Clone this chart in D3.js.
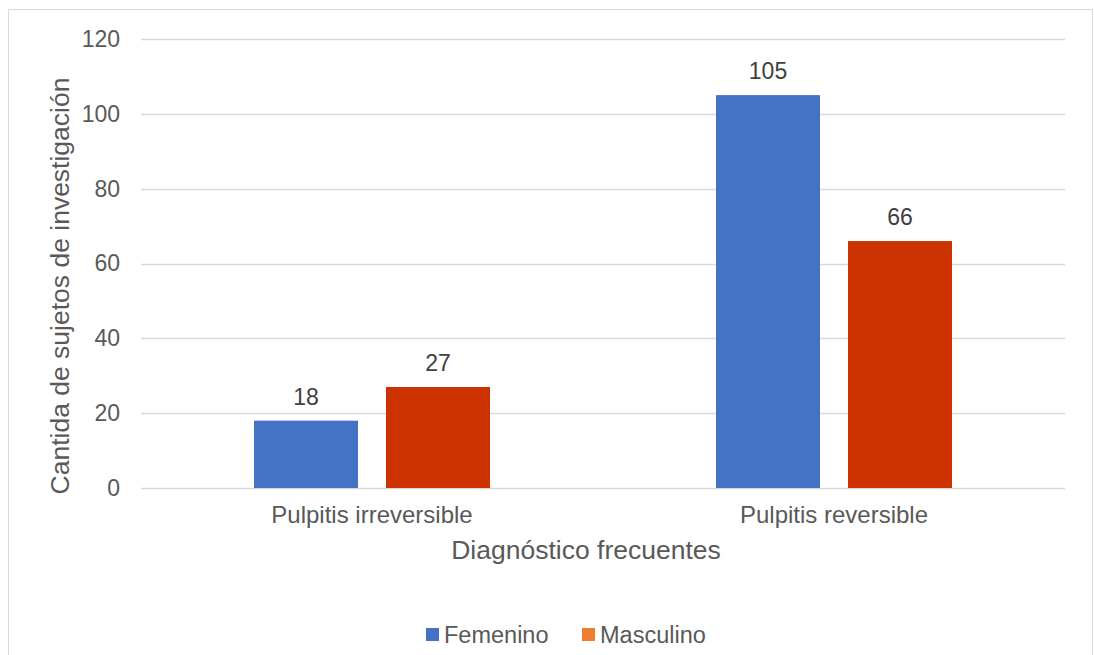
<!DOCTYPE html>
<html>
<head>
<meta charset="utf-8">
<script src="https://cdn.jsdelivr.net/npm/d3@7"></script>
<style>
  html, body { margin: 0; padding: 0; background: #fff; }
  svg { display: block; font-family: "Liberation Sans", Arial, sans-serif; }
</style>
</head>
<body>
<svg id="chart" width="1094" height="655"></svg>
<script>
// Diagnosis categories and counts per sex
const categories = ["Pulpitis irreversible", "Pulpitis reversible"];
const seriesNames = ["Femenino", "Masculino"];
const femenino = [18, 105];
const masculino = [27, 66];
const yTicks = [0, 20, 40, 60, 80, 100, 120];

const barColors = ["#4472C4", "#CC3300"];
const legendColors = ["#4472C4", "#ED7D31"];

const svg = d3.select("#chart");

// outer frame
svg.append("rect")
  .attr("x", 8.5).attr("y", 9.5)
  .attr("width", 1084).attr("height", 660)
  .attr("fill", "#fff").attr("stroke", "#D9D9D9").attr("stroke-width", 1);

const plot = { left: 141, right: 1065, top: 39, bottom: 488 };
const groupWidth = 236;

const x0 = d3.scaleBand().domain(categories).range([plot.left, plot.right]);
const x1 = d3.scaleBand().domain(seriesNames).range([0, groupWidth]).paddingInner(0.212);
const y = d3.scaleLinear().domain([0, 120]).range([plot.bottom, plot.top]);

// gridlines
svg.append("g")
  .selectAll("line").data(yTicks).join("line")
  .attr("x1", plot.left).attr("x2", plot.right)
  .attr("y1", d => Math.round(y(d)) + 0.5).attr("y2", d => Math.round(y(d)) + 0.5)
  .attr("stroke", "#D9D9D9").attr("stroke-width", 1.3);

// y axis labels
const yAxis = d3.axisLeft(y).tickValues(yTicks).tickSize(0).tickPadding(21);
const yg = svg.append("g").attr("transform", `translate(${plot.left},0)`).call(yAxis);
yg.select(".domain").remove();
yg.selectAll("text")
  .attr("fill", "#595959").style("font-size", "23px")
  .style("font-family", "'Liberation Sans', Arial, sans-serif");

// x axis labels
const xAxis = d3.axisBottom(x0).tickSize(0).tickPadding(18);
const xg = svg.append("g").attr("transform", `translate(0,${plot.bottom})`).call(xAxis);
xg.select(".domain").remove();
xg.selectAll("text")
  .attr("fill", "#595959").style("font-size", "24px")
  .style("font-family", "'Liberation Sans', Arial, sans-serif");

// bars
const rows = categories.map((c, i) => ({ cat: c, values: [femenino[i], masculino[i]] }));
const groupOffset = (x0.bandwidth() - groupWidth) / 2;

const groups = svg.append("g").selectAll("g").data(rows).join("g")
  .attr("transform", d => `translate(${x0(d.cat) + groupOffset},0)`);

groups.selectAll("rect")
  .data(d => d.values.map((v, j) => ({ name: seriesNames[j], value: v, j })))
  .join("rect")
  .attr("x", d => x1(d.name))
  .attr("width", x1.bandwidth())
  .attr("y", d => y(d.value))
  .attr("height", d => y(0) - y(d.value))
  .attr("fill", d => barColors[d.j]);

// value labels
groups.selectAll("text.val")
  .data(d => d.values.map((v, j) => ({ name: seriesNames[j], value: v })))
  .join("text").attr("class", "val")
  .attr("x", d => x1(d.name) + x1.bandwidth() / 2)
  .attr("y", d => y(d.value) - 16)
  .attr("text-anchor", "middle")
  .attr("fill", "#404040").style("font-size", "23px")
  .text(d => d.value);

// axis titles
svg.append("text")
  .attr("x", (plot.left + plot.right) / 2 - 17).attr("y", 559)
  .attr("text-anchor", "middle").attr("fill", "#595959")
  .style("font-size", "26.5px").text("Diagnóstico frecuentes");

svg.append("text")
  .attr("transform", `translate(69,286) rotate(-90)`)
  .attr("text-anchor", "middle").attr("fill", "#595959")
  .style("font-size", "26.5px").text("Cantida de sujetos de investigación");

// legend
const legendItems = [
  { name: "Femenino", x: 426, color: legendColors[0] },
  { name: "Masculino", x: 582, color: legendColors[1] }
];
const lg = svg.append("g").selectAll("g").data(legendItems).join("g")
  .attr("transform", d => `translate(${d.x},628)`);
lg.append("rect").attr("width", 13).attr("height", 13).attr("fill", d => d.color);
lg.append("text").attr("x", 18).attr("y", 14.5)
  .attr("fill", "#595959").style("font-size", "23.5px").text(d => d.name);
</script>
</body>
</html>
